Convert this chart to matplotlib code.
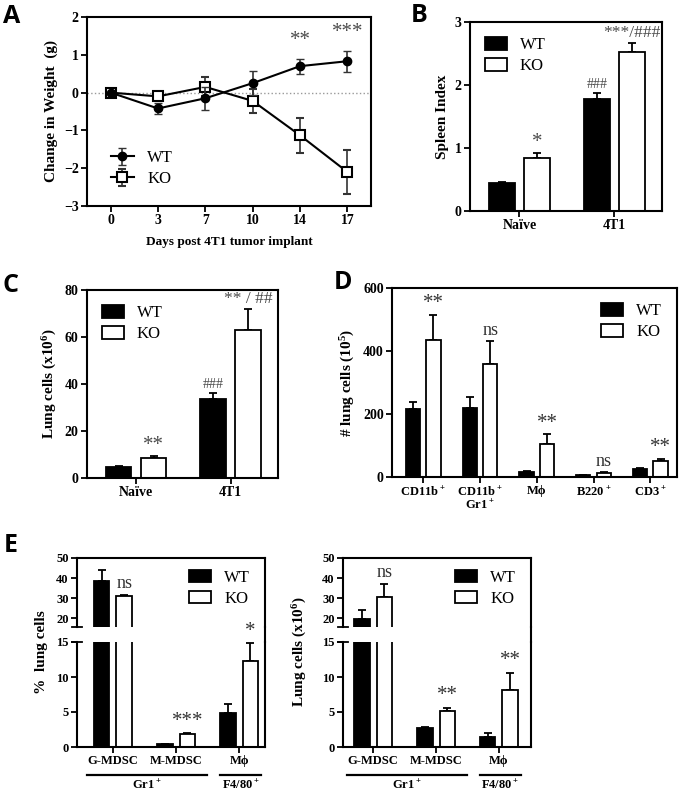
import matplotlib
matplotlib.use('Agg')
import matplotlib.pyplot as plt
from matplotlib.lines import Line2D
import matplotlib.transforms as mtransforms
import numpy as np

plt.rcParams['font.family'] = ['Liberation Serif', 'DejaVu Serif']
plt.rcParams['font.weight'] = 'bold'
plt.rcParams['axes.labelweight'] = 'bold'
plt.rcParams['mathtext.default'] = 'regular'
plt.rcParams['axes.linewidth'] = 1.5

# ---- A: body weight ----
days = ['0', '3', '7', '10', '14', '17']
wt_weight = [0, -0.42, -0.15, 0.25, 0.70, 0.83]
wt_weight_err = [0, 0.15, 0.30, 0.32, 0.20, 0.28]
ko_weight = [0, -0.10, 0.15, -0.22, -1.13, -2.10]
ko_weight_err = [0, 0.10, 0.25, 0.32, 0.47, 0.58]
weight_note = ['', '', '', '', '**', '***']

# ---- B: spleen index ----
groups = ['Naïve', '4T1']
spleen_wt = [0.44, 1.78]
spleen_wt_err = [0.02, 0.10]
spleen_ko = [0.84, 2.53]
spleen_ko_err = [0.08, 0.14]
spleen_wt_note = ['', '###']
spleen_ko_note = ['*', '***/###']

# ---- C: lung cells ----
lung_wt = [4.5, 33.8]
lung_wt_err = [0.6, 2.5]
lung_ko = [8.7, 63.0]
lung_ko_err = [0.5, 9.0]
lung_wt_note = ['', '###']
lung_ko_note = ['**', '** / ##']

# ---- D: lung subsets ----
subsets = ['CD11b$^+$', 'CD11b$^+$\nGr1$^+$', 'Mϕ', 'B220$^+$', 'CD3$^+$']
sub_wt = [215, 220, 15, 5, 25]
sub_wt_err = [22, 33, 5, 2, 4]
sub_ko = [435, 358, 105, 12, 50]
sub_ko_err = [80, 75, 30, 5, 8]
sub_ko_note = ['**', 'ns', '**', 'ns', '**']

# ---- E: MDSC ----
mdsc = ['G-MDSC', 'M-MDSC', 'Mϕ']
pct_wt = [38.5, 0.45, 4.8]
pct_wt_err = [5.5, 0.05, 1.4]
pct_ko = [31.2, 1.9, 12.3]
pct_ko_err = [0.3, 0.05, 2.5]
pct_ko_note = ['ns', '***', '*']
num_wt = [19.5, 2.7, 1.5]
num_wt_err = [4.5, 0.1, 0.5]
num_ko = [30.5, 5.1, 8.1]
num_ko_err = [6.5, 0.5, 2.5]
num_ko_note = ['ns', '**', '**']

W, H = 680, 792
fig = plt.figure(figsize=(W / 100, H / 100), dpi=100)


def px_axes(x0, y0, x1, y1):
    return fig.add_axes([x0 / W, 1 - y1 / H, (x1 - x0) / W, (y1 - y0) / H])


def style(ax, fs=10):
    ax.tick_params(direction='out', length=4, width=1.3, labelsize=fs, pad=2)


def bar_pair(ax, x, wt, wt_err, ko, ko_err, width, off):
    ax.bar(x - off, wt, width, color='black', edgecolor='black', lw=1.3, label='WT', zorder=2)
    ax.bar(x + off, ko, width, color='white', edgecolor='black', lw=1.3, label='KO', zorder=2)
    ax.errorbar(x - off, wt, yerr=[np.zeros(len(wt)), wt_err], fmt='none', ecolor='black',
                elinewidth=1.3, capsize=3, capthick=1.3, zorder=1)
    ax.errorbar(x + off, ko, yerr=[np.zeros(len(ko)), ko_err], fmt='none', ecolor='black',
                elinewidth=1.3, capsize=3, capthick=1.3, zorder=1)


def notes(ax, xs, vals, errs, texts, pad=1, size=None, color='#4a4a4a'):
    for x, v, e, s in zip(xs, vals, errs, texts):
        if not s:
            continue
        if size is not None:
            fs = size
        elif s == 'ns':
            fs = 13
        elif set(s) == {'*'}:
            fs = 15
        elif set(s) == {'#'}:
            fs = 10
        else:
            fs = 12.5
        ax.annotate(s, (x, v + e), xytext=(0, pad), textcoords='offset points',
                    ha='center', va='bottom', fontsize=fs, color=color,
                    fontweight='normal', annotation_clip=False)


def bar_legend(ax, **kw):
    ax.legend(frameon=False, handlelength=1.3, handleheight=0.8,
              labelspacing=0.3, prop={'weight': 'normal', 'size': 12}, **kw)


# ===== A =====
axA = px_axes(87, 17, 371, 206)
xa = np.arange(len(days))
axA.axhline(0, color='#999999', ls=':', lw=1, zorder=0)
axA.errorbar(xa, ko_weight, yerr=ko_weight_err, color='black', marker='s', ms=7, mfc='white',
             mec='black', mew=1.5, lw=1.5, ecolor='#333333', elinewidth=1.2, capsize=3,
             label='KO', zorder=2)
axA.errorbar(xa, wt_weight, yerr=wt_weight_err, color='black', marker='o', ms=6,
             lw=1.5, ecolor='#333333', elinewidth=1.2, capsize=3, label='WT', zorder=3)
top = np.maximum(np.array(wt_weight) + wt_weight_err, np.array(ko_weight) + ko_weight_err)
notes(axA, xa, top, np.zeros(len(days)), weight_note, pad=6)
axA.set_xlim(-0.5, 5.5)
axA.set_ylim(-3, 2)
axA.set_xticks(xa)
axA.set_xticklabels(days)
axA.set_yticks([-3, -2, -1, 0, 1, 2])
axA.set_ylabel('Change in Weight  (g)', fontsize=11)
axA.set_xlabel('Days post 4T1 tumor implant', fontsize=9.5, labelpad=6)
style(axA)
h, l = axA.get_legend_handles_labels()
axA.legend(h[::-1], l[::-1], loc='lower left', bbox_to_anchor=(0.03, 0.02), frameon=False,
           handlelength=1.4, labelspacing=0.3, prop={'weight': 'normal', 'size': 12})

# ===== B =====
axB = px_axes(470, 22, 662, 211)
xg = np.arange(len(groups))
bar_pair(axB, xg, spleen_wt, spleen_wt_err, spleen_ko, spleen_ko_err, 0.27, 0.185)
notes(axB, xg - 0.185, spleen_wt, spleen_wt_err, spleen_wt_note)
notes(axB, xg + 0.185, spleen_ko, spleen_ko_err, spleen_ko_note)
axB.set_xlim(-0.52, 1.5)
axB.set_ylim(0, 3)
axB.set_xticks(xg)
axB.set_xticklabels(groups)
axB.set_yticks([0, 1, 2, 3])
axB.set_ylabel('Spleen Index', fontsize=11)
style(axB)
bar_legend(axB, loc='upper left', bbox_to_anchor=(0.0, 1.0))

# ===== C =====
axC = px_axes(87, 290, 278, 478)
bar_pair(axC, xg, lung_wt, lung_wt_err, lung_ko, lung_ko_err, 0.27, 0.185)
notes(axC, xg - 0.185, lung_wt, lung_wt_err, lung_wt_note)
notes(axC, xg + 0.185, lung_ko, lung_ko_err, lung_ko_note)
axC.set_xlim(-0.52, 1.5)
axC.set_ylim(0, 80)
axC.set_xticks(xg)
axC.set_xticklabels(groups)
axC.set_yticks([0, 20, 40, 60, 80])
axC.set_ylabel('Lung cells (x10$^6$)', fontsize=11)
style(axC)
bar_legend(axC, loc='upper left', bbox_to_anchor=(0.0, 1.0))

# ===== D =====
axD = px_axes(392, 288, 677, 477)
xd = np.arange(len(subsets))
bar_pair(axD, xd, sub_wt, sub_wt_err, sub_ko, sub_ko_err, 0.25, 0.18)
notes(axD, xd + 0.18, sub_ko, sub_ko_err, sub_ko_note, color='#333333')
axD.set_xlim(-0.55, 4.47)
axD.set_ylim(0, 600)
axD.set_xticks(xd)
axD.set_xticklabels(subsets, fontsize=9, linespacing=1.0)
axD.set_yticks([0, 200, 400, 600])
axD.set_ylabel('# lung cells (10$^5$)', fontsize=11)
style(axD)
axD.tick_params(axis='x', labelsize=9)
bar_legend(axD, loc='upper right', bbox_to_anchor=(1.0, 1.0))


# ===== E =====
def broken_panel(x0, x1, wt, wt_err, ko, ko_err, ko_note, xlim, ylab, ylab_x):
    up = px_axes(x0, 558, x1, 627)
    lo = px_axes(x0, 642, x1, 747)
    xe = np.arange(len(mdsc))
    for ax in (up, lo):
        bar_pair(ax, xe, wt, wt_err, ko, ko_err, 0.25, 0.18)
        ax.set_xlim(*xlim)
        style(ax, fs=9)
    up.set_ylim(15.7, 50)
    up.set_yticks([20, 30, 40, 50])
    up.spines['bottom'].set_visible(False)
    up.set_xticks([])
    lo.set_ylim(0, 15)
    lo.set_yticks([0, 5, 10, 15])
    lo.spines['top'].set_visible(False)
    lo.set_xticks(xe)
    lo.set_xticklabels(mdsc, fontsize=9)
    # caps at the break
    for yy in (627, 642):
        fig.add_artist(Line2D([(x0 - 5) / W, (x0 + 5) / W], [1 - yy / H, 1 - yy / H],
                              color='black', lw=1.3))
    fig.add_artist(Line2D([x1 / W, x1 / W], [1 - 627 / H, 1 - 642 / H], color='black', lw=1.5))
    # significance notes
    for x, v, e, s in zip(xe + 0.18, ko, ko_err, ko_note):
        ax = up if v + e > 15 else lo
        notes(ax, [x], [v], [e], [s], pad=2, color='#333333')
    # group underlines
    tr = mtransforms.blended_transform_factory(lo.transData, lo.transAxes)
    for a, b, lab in ((-0.41, 1.49, 'Gr1$^+$'), (1.70, 2.35, 'F4/80$^+$')):
        lo.plot([a, b], [-0.27, -0.27], color='black', lw=1.6, transform=tr, clip_on=False)
        lo.text((a + b) / 2, -0.30, lab, transform=tr, ha='center', va='top', fontsize=9)
    fig.text(ylab_x / W, 1 - 652 / H, ylab, rotation=90, ha='center', va='center', fontsize=11)
    bar_legend(up, loc='upper right', bbox_to_anchor=(1.0, 1.05))
    return up, lo


broken_panel(77, 265, pct_wt, pct_wt_err, pct_ko, pct_ko_err, pct_ko_note,
             (-0.57, 2.41), '%  lung cells', 42)
broken_panel(343, 531, num_wt, num_wt_err, num_ko, num_ko_err, num_ko_note,
             (-0.48, 2.51), 'Lung cells (x10$^6$)', 300)

# panel letters
for txt, x, y in (('A', 3, 23), ('B', 411, 22), ('C', 3, 292), ('D', 334, 289), ('E', 4, 552)):
    fig.text(x / W, 1 - y / H, txt, fontsize=18, fontweight='bold', family='Open Sans',
             va='baseline', ha='left')

fig.savefig('out.png', dpi=100)
